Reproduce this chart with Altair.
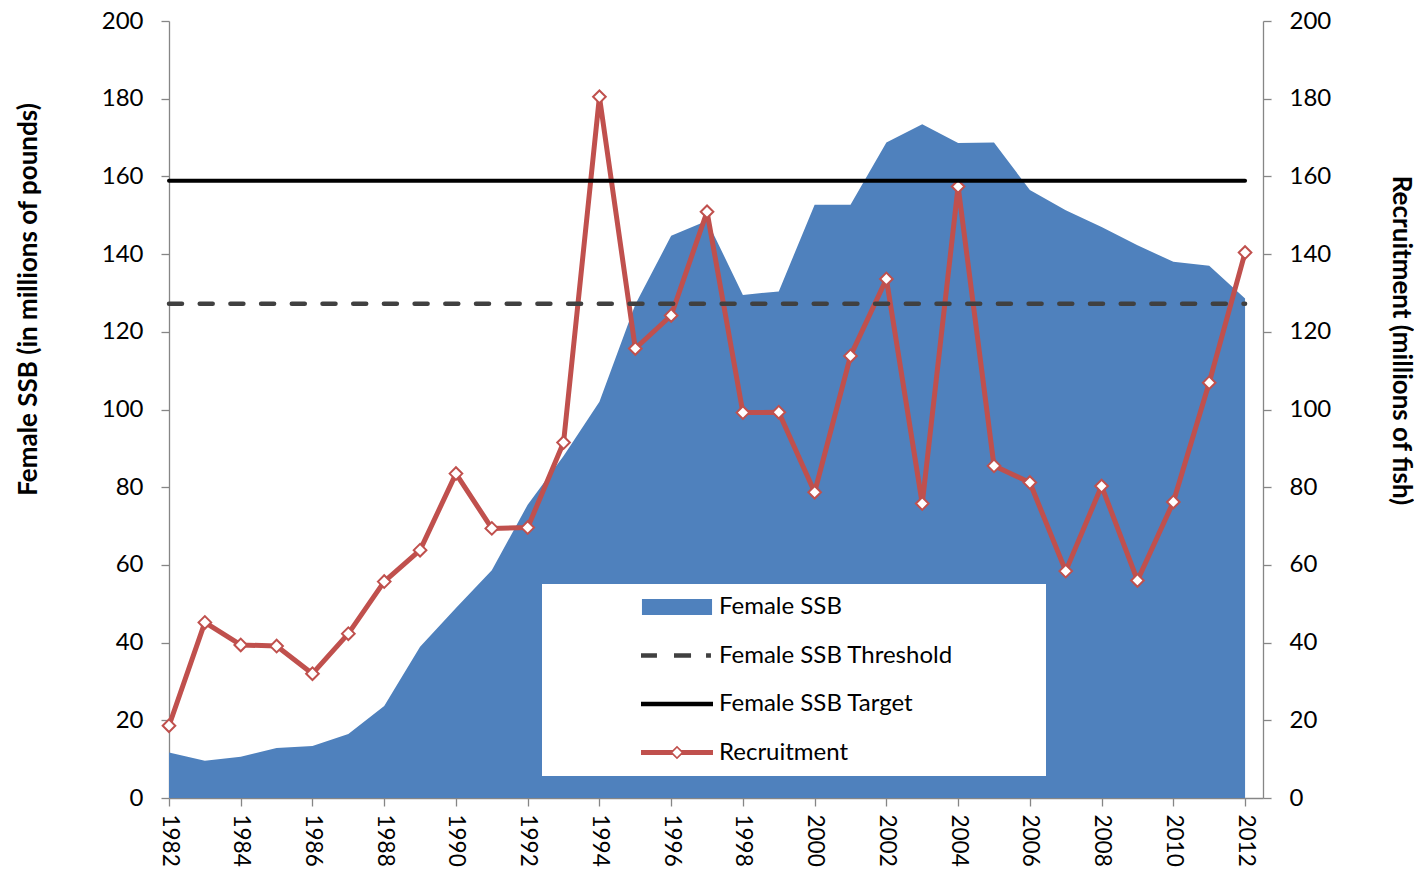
import altair as alt
import pandas as pd

FONT = "Lato"

years = list(range(1982, 2013))
female_ssb = [11.7, 9.6, 10.6, 12.9, 13.4, 16.5, 23.7, 38.9, 48.9, 58.6, 75.5,
              88.0, 102.0, 127.0, 144.7, 148.6, 129.5, 130.4, 152.7, 152.7, 168.7,
              173.4, 168.6, 168.7, 156.5, 151.3, 147.0, 142.3, 138.0, 137.0, 128.6]
recruitment = [18.6, 45.2, 39.4, 39.1, 32.0, 42.3, 55.7, 63.8, 83.5, 69.4, 69.6,
               91.5, 180.5, 115.7, 124.2, 150.9, 99.2, 99.3, 78.7, 113.8, 133.6,
               75.8, 157.4, 85.5, 81.2, 58.4, 80.3, 56.0, 76.2, 106.9, 140.4]
threshold = 127.2
target = 158.9

series_names = ["Female SSB", "Female SSB Threshold", "Female SSB Target", "Recruitment"]
series_colors = ["#4F81BD", "#404040", "#000000", "#C0504D"]
y_ticks = list(range(0, 201, 20))

ssb_df = pd.DataFrame({"year": years, "value": female_ssb, "series": series_names[0]})
rec_df = pd.DataFrame({"year": years, "value": recruitment, "series": series_names[3]})
thr_df = pd.DataFrame({"series": [series_names[1]], "value": [threshold],
                       "start": [years[0]], "end": [years[-1]]})
tgt_df = pd.DataFrame({"series": [series_names[2]], "value": [target],
                       "start": [years[0]], "end": [years[-1]]})

# legend symbol paths (unit = 12 px, symbolSize 576); the trailing empty
# sub-path only widens the legend box to the right
WIDEN = " M29.8,0L29.8,0"
P_AREA = "M-2.92,-0.67H2.92V0.67H-2.92Z" + WIDEN
P_DASH = ("M-3,-0.19H-1.67V0.19H-3Z M-0.25,-0.19H1.17V0.19H-0.25Z "
          "M2.42,-0.19H2.83V0.19H2.42Z" + WIDEN)
P_SOLID = "M-3,-0.19H3V0.19H-3Z" + WIDEN
P_REC = ("M-3,-0.2H-0.37V0.2H-3Z M0.37,-0.2H3V0.2H0.37Z "
         "M0,-0.57L0.57,0L0,0.57L-0.57,0Z M0,-0.37L-0.37,0L0,0.37L0.37,0Z" + WIDEN)
paths = [P_AREA, P_DASH, P_SOLID, P_REC]


def chain(vals):
    expr = f"'{vals[-1]}'"
    for name, v in reversed(list(zip(series_names[:-1], vals[:-1]))):
        expr = f"datum.value === '{name}' ? '{v}' : ({expr})"
    return expr


legend = alt.Legend(
    title=None, orient="none", legendX=373, legendY=563,
    fillColor="white", padding=11, symbolSize=576, symbolOffset=112,
    labelOffset=30, rowPadding=24.5, labelFont=FONT, labelFontSize=24,
    labelColor="black", labelLimit=2000,
    zindex=1,
    symbolType=alt.ExprRef(expr=chain(paths)),
    symbolFillColor=alt.ExprRef(expr=chain(series_colors)),
    symbolStrokeColor="transparent",
    symbolStrokeWidth=0,
    symbolOpacity=1,
)

color = alt.Color("series:N", scale=alt.Scale(domain=series_names, range=series_colors),
                  legend=legend)

xscale = alt.Scale(domain=[1982, 2012.5], nice=False, zero=False)
yscale = alt.Scale(domain=[0, 200], nice=False, zero=True)

x_axis = alt.Axis(values=years, format="d",
                  labelExpr="datum.value % 2 === 0 ? '' + datum.value : ''",
                  labelAngle=90, labelPadding=8, labelFontSize=22.5,
                  labelOverlap=False, labelFlush=False, title=None)

left_axis = alt.Axis(orient="left", values=y_ticks, labelPadding=18, labelFlush=False,
                     title="Female SSB (in millions of pounds)", titleX=-141, titleY=278,
                     titleAngle=270, titleAlign="center", titleBaseline="middle")
right_axis = alt.Axis(orient="right", values=y_ticks, labelPadding=18, labelFlush=False,
                      title="Recruitment (millions of fish)", titleX=137, titleY=319,
                      titleAngle=90, titleAlign="center", titleBaseline="middle")

area = alt.Chart(ssb_df).mark_area(opacity=1).encode(
    x=alt.X("year:Q", scale=xscale, axis=x_axis),
    y=alt.Y("value:Q", scale=yscale, axis=left_axis),
    color=color,
)

rec_line = alt.Chart(rec_df).mark_line(strokeWidth=5, strokeJoin="round").encode(
    x=alt.X("year:Q", scale=xscale),
    y=alt.Y("value:Q", scale=yscale, axis=right_axis),
    color=color,
)
rec_pts = alt.Chart(rec_df).mark_point(shape="diamond", filled=True, fill="white",
                                       stroke="#C0504D", strokeWidth=2, size=160,
                                       opacity=1).encode(
    x=alt.X("year:Q", scale=xscale),
    y=alt.Y("value:Q", scale=yscale),
)

thr = alt.Chart(thr_df).mark_rule(strokeWidth=4.5, strokeDash=[13, 17.7],
                                  strokeCap="round").encode(
    x=alt.X("start:Q", scale=xscale),
    x2="end:Q",
    y=alt.Y("value:Q", scale=yscale, axis=None),
    color=color,
)
tgt = alt.Chart(tgt_df).mark_rule(strokeWidth=4, strokeCap="round").encode(
    x=alt.X("start:Q", scale=xscale),
    x2="end:Q",
    y=alt.Y("value:Q", scale=yscale, axis=None),
    color=color,
)

chart = alt.layer(
    area,
    alt.layer(rec_line, rec_pts),
    alt.layer(thr, tgt),
).resolve_scale(y="independent").properties(
    width=1094, height=777,
    autosize=alt.AutoSizeParams(type="none"),
    padding={"left": 161, "top": 13, "right": 151, "bottom": 69},
    background="white",
).configure_view(stroke=None).configure_axis(
    domainColor="#868686", domainWidth=1.3, tickColor="#868686", tickWidth=1.3,
    tickSize=8, labelFont=FONT, labelFontSize=24, labelColor="black", grid=False,
    titleFont=FONT, titleFontSize=26, titleFontWeight="bold", titleColor="black",
)

chart.save("out.html", embed_options={"renderer": "svg", "actions": False})
